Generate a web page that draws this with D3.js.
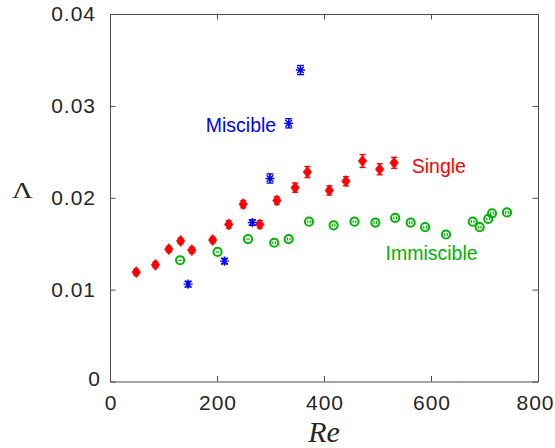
<!DOCTYPE html>
<html>
<head>
<meta charset="utf-8">
<script src="https://cdn.jsdelivr.net/npm/d3@7"></script>
<style>
  html, body { margin: 0; padding: 0; background: #fff; }
  svg { display: block; }
</style>
</head>
<body>
<svg id="chart" width="555" height="448"></svg>
<script>
// Friction factor Λ versus Reynolds number for three flow configurations
const xTicks = [0, 200, 400, 600, 800];
const yTicks = [0, 0.01, 0.02, 0.03, 0.04];
const yTickLabels = ["0", "0.01", "0.02", "0.03", "0.04"];

// Single-phase flow (red diamonds)
const singleRe  = [49, 85, 110, 132, 153, 192, 222, 249, 280, 312, 346, 369, 410, 441, 472, 504, 531];
const singleL   = [0.0119, 0.0127, 0.0144, 0.0153, 0.0143, 0.0154, 0.0171, 0.0193, 0.0171, 0.0197,
                   0.0211, 0.0228, 0.0208, 0.0218, 0.0240, 0.0231, 0.0238];
const singleErr = [0.0003, 0.0003, 0.0003, 0.0003, 0.0003, 0.0003, 0.0004, 0.0004, 0.0004, 0.0004,
                   0.0005, 0.0006, 0.0005, 0.0005, 0.0007, 0.0006, 0.0006];

// Miscible two-layer flow (blue asterisks)
const miscRe  = [146, 214, 266, 299, 334, 356];
const miscL   = [0.0106, 0.0131, 0.0173, 0.0221, 0.0281, 0.0339];
const miscErr = [0.0003, 0.0003, 0.0003, 0.0005, 0.0005, 0.0005];

// Immiscible two-layer flow (green circles)
const immRe = [131, 201, 258, 307, 334, 372, 418, 457, 496, 533, 562, 589, 628, 678, 691, 707, 714, 742];
const immL  = [0.0132, 0.0141, 0.0155, 0.0151, 0.0155, 0.0174, 0.0170, 0.0174, 0.0173, 0.0178,
               0.0173, 0.0168, 0.0160, 0.0174, 0.0168, 0.0177, 0.0183, 0.0184];

const RED = "#ff0000", BLUE = "#0000ff", GREEN = "#00b300", AXIS = "#4d4d4d", TEXT = "#262626";

const svg = d3.select("#chart");
const plotLeft = 110, plotRight = 538, plotTop = 14, plotBottom = 381.5;

const x = d3.scaleLinear().domain([0, 800]).range([plotLeft, plotRight]);
const y = d3.scaleLinear().domain([0, 0.04]).range([plotBottom, plotTop]);

const tickFont = "'Liberation Sans', Arial, Helvetica, sans-serif";

function styleAxis(g) {
  g.select(".domain").attr("stroke", AXIS).attr("stroke-width", 1);
  g.selectAll(".tick line").attr("stroke", AXIS).attr("stroke-width", 1);
  g.selectAll(".tick text")
    .attr("fill", TEXT)
    .style("font-family", tickFont)
    .style("font-size", "21px")
    .style("letter-spacing", "1px");
}

// Bottom axis with labels, ticks pointing inward
svg.append("g")
  .attr("transform", `translate(0,${plotBottom})`)
  .call(d3.axisBottom(x).tickValues(xTicks).tickFormat(d3.format("d"))
        .tickSizeInner(-5.5).tickSizeOuter(0).tickPadding(13.5))
  .call(styleAxis)
  .call(g => g.selectAll(".tick text").attr("dx", "0.5px"))
  .call(g => g.selectAll(".tick").filter(d => d === 800).select("text").attr("dx", "-3px"));

// Left axis with labels
svg.append("g")
  .attr("transform", `translate(${plotLeft},0)`)
  .call(d3.axisLeft(y).tickValues(yTicks).tickFormat((d, i) => yTickLabels[i])
        .tickSizeInner(-5.5).tickSizeOuter(0).tickPadding(14))
  .call(styleAxis)
  .call(g => g.selectAll(".tick").filter(d => d === 0).select("text").attr("dx", "5px").attr("dy", "0.2em"));

// Mirrored top and right axes close the box
svg.append("g")
  .attr("transform", `translate(0,${plotTop})`)
  .call(d3.axisTop(x).tickValues(xTicks).tickFormat("")
        .tickSizeInner(-5.5).tickSizeOuter(0))
  .call(styleAxis);

svg.append("g")
  .attr("transform", `translate(${plotRight},0)`)
  .call(d3.axisRight(y).tickValues(yTicks).tickFormat("")
        .tickSizeInner(-5.5).tickSizeOuter(0))
  .call(styleAxis);

// Vertical error bar with caps
function errorBars(g, re, val, err, color, capHalf, width) {
  const data = re.map((r, i) => ({ r, v: val[i], e: err[i] }));
  const eb = g.selectAll(null).data(data).enter().append("g");
  eb.append("line")
    .attr("x1", d => x(d.r)).attr("x2", d => x(d.r))
    .attr("y1", d => y(d.v - d.e)).attr("y2", d => y(d.v + d.e));
  eb.append("line")
    .attr("x1", d => x(d.r) - capHalf).attr("x2", d => x(d.r) + capHalf)
    .attr("y1", d => y(d.v + d.e)).attr("y2", d => y(d.v + d.e));
  eb.append("line")
    .attr("x1", d => x(d.r) - capHalf).attr("x2", d => x(d.r) + capHalf)
    .attr("y1", d => y(d.v - d.e)).attr("y2", d => y(d.v - d.e));
  eb.selectAll("line").attr("stroke", color).attr("stroke-width", width);
}

// Single: filled diamonds
const gSingle = svg.append("g");
errorBars(gSingle, singleRe, singleL, singleErr, RED, 3, 1.4);
gSingle.selectAll("path.dia")
  .data(singleRe.map((r, i) => ({ r, v: singleL[i] })))
  .enter().append("path")
  .attr("class", "dia")
  .attr("d", d => {
    const cx = x(d.r), cy = y(d.v), w = 4.3, h = 5.6;
    return `M${cx},${cy - h}L${cx + w},${cy}L${cx},${cy + h}L${cx - w},${cy}Z`;
  })
  .attr("fill", RED).attr("stroke", RED).attr("stroke-width", 0.6);

// Immiscible: open circles with small inner marks
const gImm = svg.append("g");
const flatMarks = 3;
const immData = immRe.map((r, i) => ({ r, v: immL[i], i }));
gImm.selectAll("circle")
  .data(immData)
  .enter().append("circle")
  .attr("cx", d => x(d.r)).attr("cy", d => y(d.v)).attr("r", 4.1)
  .attr("fill", "none").attr("stroke", GREEN).attr("stroke-width", 2);
immData.forEach(d => {
  const cx = x(d.r), cy = y(d.v);
  if (d.i < flatMarks) {
    gImm.append("line").attr("x1", cx - 1.8).attr("x2", cx + 1.8).attr("y1", cy).attr("y2", cy);
  } else {
    [-1.3, 1.3].forEach(o => gImm.append("line")
      .attr("x1", cx + o).attr("x2", cx + o).attr("y1", cy - 1.5).attr("y2", cy + 1.5));
  }
});
gImm.selectAll("line").attr("stroke", GREEN).attr("stroke-width", 1.2);

// Miscible: asterisks
const gMisc = svg.append("g");
errorBars(gMisc, miscRe, miscL, miscErr, BLUE, 3.5, 1.3);
gMisc.selectAll("path.star")
  .data(miscRe.map((r, i) => ({ r, v: miscL[i] })))
  .enter().append("path")
  .attr("class", "star")
  .attr("d", d => {
    const cx = x(d.r), cy = y(d.v), s = 4.6, k = s * 0.72;
    return `M${cx},${cy - s}L${cx},${cy + s}` +
           `M${cx - s},${cy}L${cx + s},${cy}` +
           `M${cx - k},${cy - k}L${cx + k},${cy + k}` +
           `M${cx - k},${cy + k}L${cx + k},${cy - k}`;
  })
  .attr("fill", "none").attr("stroke", BLUE).attr("stroke-width", 1.4);

// Curve labels
const labelFont = "'Liberation Sans', Arial, Helvetica, sans-serif";
const labels = [
  { text: "Miscible",   re: 179, v: 0.02716, color: BLUE },
  { text: "Single",     re: 564, v: 0.02267, color: RED },
  { text: "Immiscible", re: 515, v: 0.01323, color: GREEN }
];
svg.selectAll("text.lbl")
  .data(labels)
  .enter().append("text")
  .attr("class", "lbl")
  .attr("x", d => x(d.re)).attr("y", d => y(d.v))
  .attr("fill", d => d.color)
  .style("font-family", labelFont)
  .style("font-size", "19.5px")
  .text(d => d.text);

// Axis titles
svg.append("text")
  .attr("x", (plotLeft + plotRight) / 2).attr("y", 441.5)
  .attr("text-anchor", "middle")
  .attr("fill", TEXT)
  .style("font-family", "'Liberation Serif', 'Times New Roman', serif")
  .style("font-style", "italic")
  .style("font-size", "30px")
  .text("Re");

svg.append("text")
  .attr("x", 22.5).attr("y", 198.3)
  .attr("text-anchor", "middle")
  .attr("fill", TEXT)
  .attr("transform", "translate(22.5,0) scale(1.2,1) translate(-22.5,0)")
  .style("font-family", "'Liberation Serif', 'Times New Roman', serif")
  .style("font-size", "24px")
  .text("Λ");
</script>
</body>
</html>
